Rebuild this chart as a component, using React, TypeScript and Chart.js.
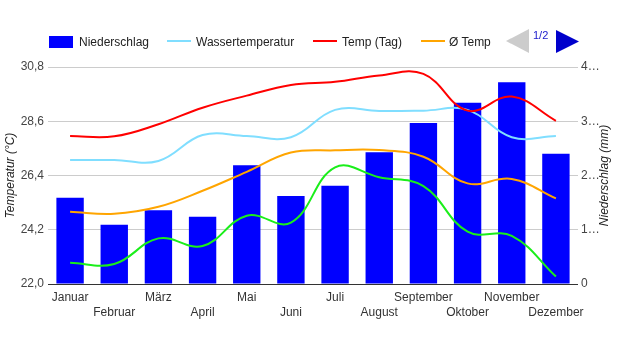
import React, { useEffect, useRef } from "react";
import { Chart, registerables } from "chart.js";

Chart.register(...registerables);

const months = ["Januar", "Februar", "März", "April", "Mai", "Juni", "Juli", "August", "September", "Oktober", "November", "Dezember"];
const niederschlag = [1.59, 1.09, 1.36, 1.24, 2.19, 1.62, 1.81, 2.43, 2.97, 3.34, 3.72, 2.4];
const wassertemperatur = [27.03, 27.03, 26.99, 28.04, 28.0, 27.95, 29.06, 29.02, 29.03, 29.06, 27.95, 28.0];
const tempTag = [28.0, 27.99, 28.48, 29.15, 29.64, 30.07, 30.2, 30.46, 30.52, 29.03, 29.6, 28.62];
const tempAvg = [24.93, 24.85, 25.13, 25.78, 26.55, 27.33, 27.42, 27.43, 27.16, 26.08, 26.26, 25.47];
const tempNacht = [22.86, 22.81, 23.85, 23.54, 24.77, 24.49, 26.73, 26.33, 25.97, 24.12, 23.95, 22.3];
const leftTicks = [22.0, 24.2, 26.4, 28.6, 30.8];
const rightTicks = [0, 1, 2, 3, 4];

const FONT = 'Arial, "Liberation Sans", sans-serif';

const titlePlugin = {
  id: "axisTitles",
  afterDraw(chart: any) {
    const { ctx, chartArea } = chart;
    const cy = (chartArea.top + chartArea.bottom) / 2;
    ctx.save();
    ctx.font = `italic 12px ${FONT}`;
    ctx.fillStyle = "#222";
    ctx.textAlign = "center";
    ctx.textBaseline = "middle";
    ctx.translate(11, cy);
    ctx.rotate(-Math.PI / 2);
    ctx.fillText("Temperatur (°C)", 0, 0);
    ctx.restore();
    ctx.save();
    ctx.font = `italic 12px ${FONT}`;
    ctx.fillStyle = "#222";
    ctx.textAlign = "center";
    ctx.textBaseline = "middle";
    ctx.translate(605, cy);
    ctx.rotate(-Math.PI / 2);
    ctx.fillText("Niederschlag (mm)", 0, 0);
    ctx.restore();
  },
};

function LineSwatch({ left, color }: { left: number; color: string }) {
  return <div style={{ position: "absolute", left, top: 40, width: 24, height: 2, background: color }} />;
}

function Label({ left, text }: { left: number; text: string }) {
  return (
    <div style={{ position: "absolute", left, top: 34, height: 16, lineHeight: "16px", fontSize: 12, fontFamily: FONT, color: "#222", whiteSpace: "nowrap" }}>
      {text}
    </div>
  );
}

export default function App() {
  const ref = useRef<HTMLCanvasElement>(null);

  useEffect(() => {
    if (!ref.current) return;
    Chart.defaults.font.family = FONT;
    const chart = new Chart(ref.current, {
      type: "bar",
      data: {
        labels: months,
        datasets: [
          { type: "line", label: "Wassertemperatur", data: wassertemperatur, borderColor: "#80deff", borderWidth: 2, pointRadius: 0, tension: 0.4, yAxisID: "y", order: 2 },
          { type: "line", label: "Temp (Tag)", data: tempTag, borderColor: "#ff0000", borderWidth: 2, pointRadius: 0, tension: 0.4, yAxisID: "y", order: 1 },
          { type: "line", label: "Ø Temp", data: tempAvg, borderColor: "#ffa500", borderWidth: 2, pointRadius: 0, tension: 0.4, yAxisID: "y", order: 3 },
          { type: "line", label: "Temp (Nacht)", data: tempNacht, borderColor: "#1aee1a", borderWidth: 2, pointRadius: 0, tension: 0.4, yAxisID: "y", order: 4 },
          { type: "bar", label: "Niederschlag", data: niederschlag, backgroundColor: "#0000ff", borderWidth: 0, yAxisID: "y1", categoryPercentage: 1, barPercentage: 0.62, order: 10 },
        ] as any,
      },
      options: {
        responsive: false,
        animation: false,
        devicePixelRatio: 1,
        layout: { padding: { top: 67, left: 0, right: 0, bottom: 0 } },
        plugins: { legend: { display: false }, tooltip: { enabled: false }, title: { display: false } },
        scales: {
          x: {
            offset: true,
            grid: { display: false, drawTicks: false },
            border: { display: false },
            ticks: {
              autoSkip: false,
              maxRotation: 0,
              minRotation: 0,
              padding: 6,
              color: "#333",
              font: { size: 12, lineHeight: 1.25 },
              callback: (_v: any, i: number) => (i % 2 === 0 ? months[i] : ["", months[i]]),
            },
            afterFit: (s: any) => { s.height = 66; },
          },
          y: {
            position: "left",
            min: leftTicks[0],
            max: leftTicks[leftTicks.length - 1],
            afterBuildTicks: (s: any) => { s.ticks = leftTicks.map((v) => ({ value: v })); },
            grid: {
              drawTicks: false,
              color: (c: any) => (c.tick && c.tick.value === leftTicks[0] ? "#333" : "#cccccc"),
              lineWidth: 1,
            },
            border: { display: false },
            ticks: {
              padding: 4,
              color: "#444",
              font: { size: 12 },
              callback: (v: any) => Number(v).toFixed(1).replace(".", ","),
            },
            afterFit: (s: any) => { s.width = 48; },
          },
          y1: {
            position: "right",
            min: rightTicks[0],
            max: rightTicks[rightTicks.length - 1],
            afterBuildTicks: (s: any) => { s.ticks = rightTicks.map((v) => ({ value: v })); },
            grid: { drawOnChartArea: false, drawTicks: false },
            border: { display: false },
            ticks: {
              padding: 3,
              color: "#444",
              font: { size: 12 },
              callback: (v: any) => (Number(v) === 0 ? "0" : `${v}…`),
            },
            afterFit: (s: any) => { s.width = 39; },
          },
        },
      } as any,
      plugins: [titlePlugin],
    });
    return () => chart.destroy();
  }, []);

  return (
    <div style={{ position: "absolute", left: 0, top: 0, width: 617, height: 350, background: "#fff" }}>
      <canvas ref={ref} width={617} height={350} style={{ position: "absolute", left: 0, top: 0 }} />
      <div style={{ position: "absolute", left: 49, top: 36, width: 24, height: 12, background: "#0000ff" }} />
      <Label left={79} text="Niederschlag" />
      <LineSwatch left={167} color="#80deff" />
      <Label left={196} text="Wassertemperatur" />
      <LineSwatch left={313} color="#ff0000" />
      <Label left={342} text="Temp (Tag)" />
      <LineSwatch left={421} color="#ffa500" />
      <Label left={449} text="Ø Temp" />
      <svg style={{ position: "absolute", left: 0, top: 0 }} width={617} height={60}>
        <polygon points="506,41 529,29 529,53" fill="#cccccc" />
        <polygon points="556,30 556,53 579,41.5" fill="#0000cc" />
      </svg>
      <div style={{ position: "absolute", left: 533, top: 29, fontSize: 11, lineHeight: "12px", fontFamily: FONT, color: "#1a1acc" }}>1/2</div>
    </div>
  );
}
